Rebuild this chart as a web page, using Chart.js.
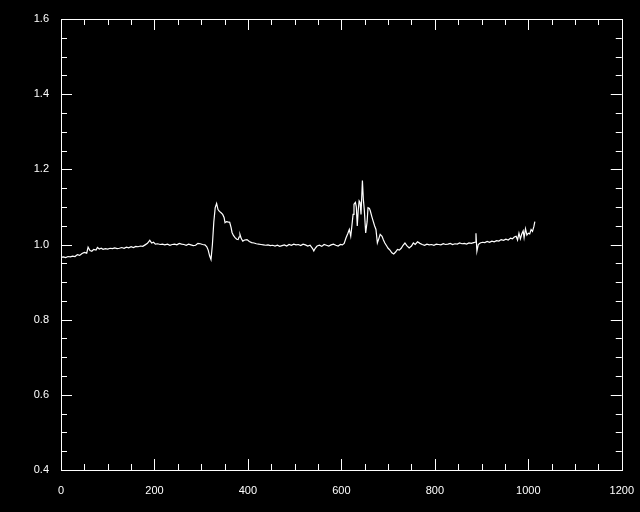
<!DOCTYPE HTML>
<html>
<head>
<script src="https://cdn.jsdelivr.net/npm/chart.js@4/dist/chart.umd.min.js"></script>
<style>
  html, body { margin: 0; padding: 0; background: #000; }
</style>
</head>
<body>
<canvas id="myChart" width="640" height="512"></canvas>
<script type="text/javascript">

// x positions of the spectrum samples
var xs = [
  0, 5, 10, 15, 20, 25, 30, 35, 40, 45, 50, 55, 58, 62, 66, 70, 75, 78, 82, 86,
  90, 95, 100, 105, 110, 115, 120, 125, 130, 135, 140, 145, 150, 155, 160, 165, 170, 175, 180, 185,
  190, 194, 198, 202, 207, 212, 217, 222, 228, 233, 238, 243, 248, 253, 258, 263, 268, 273, 278, 283,
  288, 293, 298, 303, 308, 312, 315, 318, 321, 324, 327, 330, 333, 336, 339, 342, 346, 349, 351, 354,
  357, 361, 364, 366, 369, 372, 376, 379, 381, 383, 386, 389, 393, 398, 403, 408, 413, 418, 423, 428,
  433, 438, 443, 448, 453, 458, 463, 468, 473, 478, 483, 488, 493, 498, 503, 508, 513, 518, 523, 528,
  533, 538, 541, 544, 548, 553, 558, 563, 568, 573, 578, 583, 588, 593, 598, 602, 606, 610, 614, 617,
  620, 622, 625, 627, 630, 632, 634, 636, 638, 640, 642, 645, 647, 649, 652, 655, 657, 660, 662, 665,
  668, 671, 674, 677, 680, 683, 687, 690, 693, 697, 700, 704, 708, 712, 716, 720, 724, 728, 732, 736,
  740, 745, 750, 754, 758, 763, 768, 773, 778, 783, 788, 793, 798, 803, 808, 813, 818, 823, 828, 833,
  838, 843, 848, 853, 858, 863, 868, 873, 878, 883, 886, 888, 890, 893, 897, 902, 907, 912, 917, 922,
  927, 932, 937, 942, 947, 952, 957, 962, 966, 970, 974, 977, 980, 983, 986, 989, 991, 994, 997, 1000,
  1003, 1006, 1009, 1012, 1014
];

// measured ratio values
var ys = [
  0.966, 0.967, 0.965, 0.968, 0.967, 0.969, 0.968, 0.973, 0.971, 0.976, 0.979, 0.977, 0.993, 0.984, 0.982, 0.987, 0.985, 0.992, 0.988, 0.990,
  0.987, 0.989, 0.988, 0.990, 0.989, 0.991, 0.989, 0.990, 0.992, 0.990, 0.993, 0.991, 0.994, 0.992, 0.995, 0.994, 0.996, 0.995, 0.999, 1.003,
  1.011, 1.004, 1.006, 1.001, 1.002, 1.000, 1.001, 0.999, 1.001, 0.998, 1.000, 1.001, 0.999, 1.003, 1.001, 1.000, 0.998, 1.001, 0.999, 0.997,
  0.998, 1.003, 1.002, 1.000, 0.999, 0.994, 0.985, 0.970, 0.960, 1.000, 1.060, 1.098, 1.109, 1.093, 1.088, 1.085, 1.080, 1.072, 1.058, 1.061,
  1.060, 1.059, 1.045, 1.032, 1.024, 1.019, 1.014, 1.013, 1.020, 1.027, 1.015, 1.009, 1.012, 1.013, 1.008, 1.005, 1.004, 1.002, 1.001, 1.000,
  0.999, 0.998, 0.999, 0.997, 0.998, 0.996, 0.998, 0.995, 0.997, 0.999, 0.996, 1.000, 0.998, 1.001, 0.999, 1.000, 0.997, 1.001, 0.999, 0.996,
  0.998, 0.990, 0.983, 0.990, 0.996, 0.998, 0.995, 1.000, 0.998, 0.996, 0.999, 1.001, 0.998, 0.996, 1.000, 0.999, 1.003, 1.018, 1.030, 1.040,
  1.022, 1.044, 1.080, 1.107, 1.112, 1.100, 1.049, 1.090, 1.116, 1.112, 1.080, 1.170, 1.120, 1.093, 1.031, 1.060, 1.098, 1.096, 1.089, 1.075,
  1.062, 1.050, 1.040, 1.004, 1.015, 1.027, 1.022, 1.012, 1.004, 0.996, 0.990, 0.985, 0.978, 0.975, 0.980, 0.987, 0.985, 0.990, 0.998, 1.004,
  0.997, 0.991, 0.996, 1.004, 1.000, 1.007, 1.003, 1.000, 0.998, 1.001, 0.999, 1.000, 0.998, 1.001, 1.000, 0.999, 1.002, 1.000, 1.001, 1.003,
  1.000, 1.002, 1.001, 1.004, 1.002, 1.003, 1.001, 1.004, 1.003, 1.005, 1.006, 1.030, 0.982, 1.000, 1.004, 1.006, 1.005, 1.008, 1.006, 1.009,
  1.007, 1.010, 1.009, 1.013, 1.011, 1.014, 1.012, 1.017, 1.015, 1.020, 1.022, 1.012, 1.030, 1.015, 1.028, 1.036, 1.018, 1.042, 1.025, 1.030,
  1.028, 1.040, 1.035, 1.048, 1.061
];

var xTicks = [0, 200, 400, 600, 800, 1000, 1200];
var yTicks = [0.4, 0.6, 0.8, 1.0, 1.2, 1.4, 1.6];

var points = xs.map(function (x, i) { return { x: x, y: ys[i] }; });

// black page + IDL style box with inward ticks on all four sides
var idlFrame = {
  id: 'idlFrame',
  beforeDraw: function (chart) {
    var c = chart.ctx;
    c.save();
    c.fillStyle = '#000';
    c.fillRect(0, 0, chart.width, chart.height);
    c.restore();
  },
  afterDraw: function (chart) {
    var c = chart.ctx, a = chart.chartArea;
    var sx = chart.scales.x, sy = chart.scales.y;
    c.save();
    c.strokeStyle = '#fff';
    c.lineWidth = 1;
    c.strokeRect(Math.round(a.left) + 0.5, Math.round(a.top) + 0.5,
                 Math.round(a.right - a.left), Math.round(a.bottom - a.top));
    c.beginPath();
    for (var v = 0; v <= 1200; v += 50) {
      var px = Math.round(sx.getPixelForValue(v)) + 0.5;
      var len = (v % 200 === 0) ? 11 : 6;
      c.moveTo(px, a.bottom); c.lineTo(px, a.bottom - len);
      c.moveTo(px, a.top); c.lineTo(px, a.top + len);
    }
    for (var k = 0; k <= 24; k++) {
      var yv = 0.4 + k * 0.05;
      var py = Math.round(sy.getPixelForValue(yv)) + 0.5;
      var l2 = (k % 4 === 0) ? 11 : 6;
      c.moveTo(a.left, py); c.lineTo(a.left + l2, py);
      c.moveTo(a.right, py); c.lineTo(a.right - l2, py);
    }
    c.stroke();
    c.restore();
  }
};

var ctx = document.getElementById('myChart');
var myChart = new Chart(ctx, {
  type: 'line',
  data: {
    datasets: [{
      data: points,
      borderColor: '#fff',
      borderWidth: 1.2,
      pointRadius: 0,
      tension: 0,
      fill: false
    }]
  },
  options: {
    responsive: false,
    animation: false,
    layout: { padding: { top: 19, right: 18, left: 0, bottom: 0 } },
    plugins: { legend: { display: false }, tooltip: { enabled: false } },
    scales: {
      x: {
        type: 'linear',
        min: 0, max: 1200,
        afterBuildTicks: function (s) { s.ticks = xTicks.map(function (v) { return { value: v }; }); },
        afterFit: function (s) { s.height = 42; },
        grid: { display: false },
        border: { display: false },
        ticks: {
          color: '#fff', padding: 6, maxRotation: 0,
          font: { family: 'Liberation Sans', size: 11 },
          callback: function (v) { return String(v); }
        }
      },
      y: {
        min: 0.4, max: 1.6,
        afterBuildTicks: function (s) { s.ticks = yTicks.map(function (v) { return { value: v }; }); },
        afterFit: function (s) { s.width = 61; },
        grid: { display: false },
        border: { display: false },
        ticks: {
          color: '#fff', padding: 4,
          font: { family: 'Liberation Sans', size: 11 },
          callback: function (v) { return Number(v).toFixed(1); }
        }
      }
    }
  },
  plugins: [idlFrame]
});
</script>
</body>
</html>
